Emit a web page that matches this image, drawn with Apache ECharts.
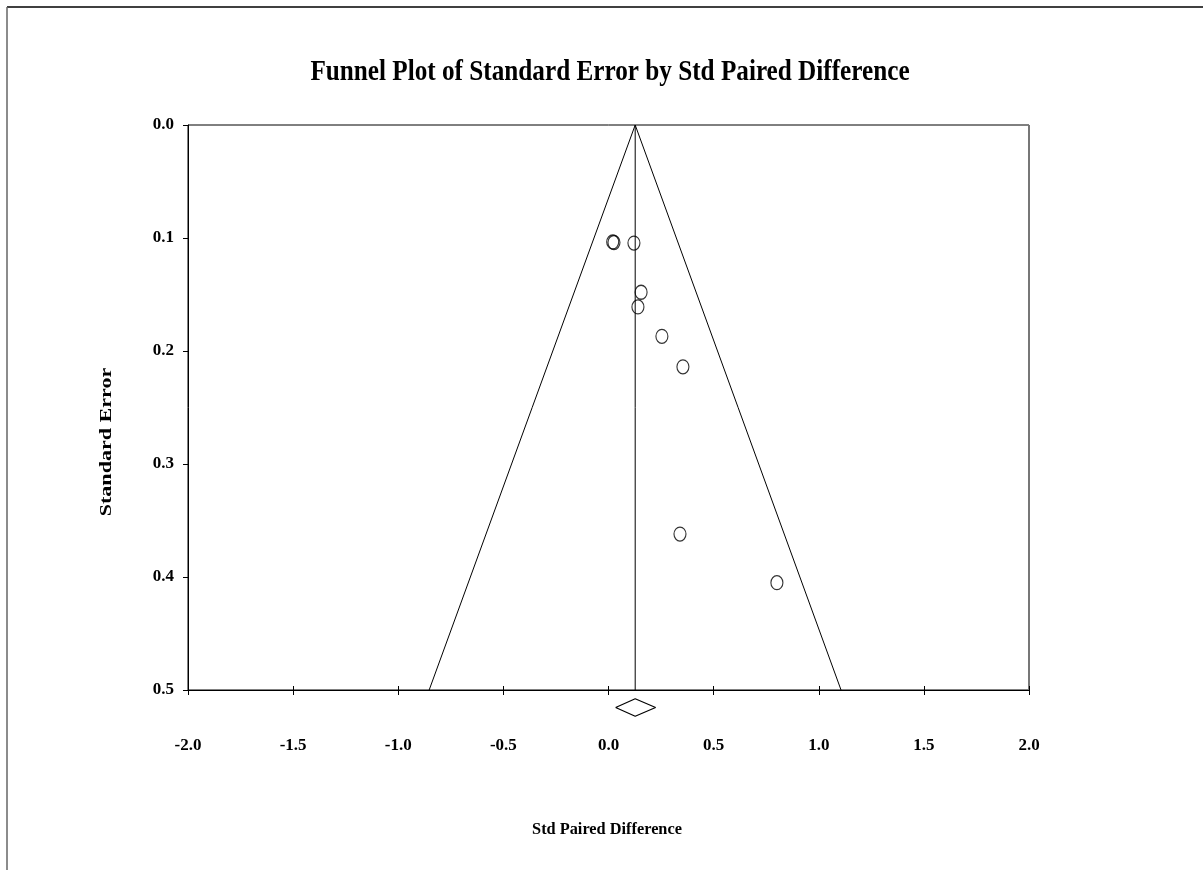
<!DOCTYPE html>
<html>
<head>
<meta charset="utf-8">
<script src="https://cdn.jsdelivr.net/npm/echarts@6/dist/echarts.min.js"></script>
<style>
html,body{margin:0;padding:0;background:#fff;}
#chart{width:1203px;height:870px;}
</style>
</head>
<body>
<div id="chart"></div>
<script>
// Study points: effect size (Std Paired Difference) and Standard Error
const studyEffect = [0.020, 0.026, 0.121, 0.155, 0.140, 0.254, 0.354, 0.340, 0.801];
const studySE     = [0.1035, 0.1040, 0.1045, 0.148, 0.161, 0.187, 0.214, 0.362, 0.405];
// Funnel (pseudo 95% limits) vertices
const funnelX  = [-0.853, 0.127, 1.106];
const funnelSE = [0.5, 0.0, 0.5];
// Combined effect line
const meanX = [0.127, 0.127];
const meanSE = [0.0, 0.5];
// Summary diamond (lower CI, estimate, upper CI) drawn below the axis
const diamondX  = [0.034, 0.127, 0.224, 0.127, 0.034];
const diamondSE = [0.5155, 0.5078, 0.5155, 0.5232, 0.5155];
// Axis ticks
const xTicks = [-2.0, -1.5, -1.0, -0.5, 0.0, 0.5, 1.0, 1.5, 2.0];
const yTicks = [0.0, 0.1, 0.2, 0.3, 0.4, 0.5];

const FONT = '"Liberation Serif", "Times New Roman", serif';
const zip = (a, b) => a.map((v, i) => [v, b[i]]);

const chart = echarts.init(document.getElementById('chart'), null, {renderer: 'canvas'});
const gridL = 188, gridT = 125, gridW = 841, gridH = 565;

chart.setOption({
  animation: false,
  backgroundColor: '#fff',
  grid: {left: gridL, top: gridT, width: gridW, height: gridH, show: true, borderColor: '#000', borderWidth: 1, backgroundColor: 'transparent'},
  xAxis: [{
    type: 'value', min: xTicks[0], max: xTicks[xTicks.length - 1], interval: 0.5,
    axisLine: {onZero: false, lineStyle: {color: '#000', width: 1}},
    axisTick: {show: true, inside: false, length: 5, lineStyle: {color: '#000'}},
    splitLine: {show: false},
    axisLabel: {margin: 47, color: '#000', fontFamily: FONT, fontWeight: 'bold', fontSize: 17,
      formatter: v => v.toFixed(1)}
  }, {
    type: 'value', position: 'bottom', min: xTicks[0], max: xTicks[xTicks.length - 1], interval: 0.5,
    axisLine: {show: false, onZero: false},
    axisTick: {show: true, inside: true, length: 4, lineStyle: {color: '#000'}},
    axisLabel: {show: false}, splitLine: {show: false}
  }],
  yAxis: {
    type: 'value', inverse: true, min: yTicks[0], max: yTicks[yTicks.length - 1], interval: 0.1,
    axisLine: {show: true, onZero: false, lineStyle: {color: '#000', width: 1}},
    axisTick: {show: true, inside: false, length: 5, lineStyle: {color: '#000'}},
    splitLine: {show: false},
    axisLabel: {margin: 14, color: '#000', fontFamily: FONT, fontWeight: 'bold', fontSize: 17,
      formatter: v => v.toFixed(1)}
  },
  graphic: [
    {type: 'line', shape: {x1: 7, y1: 7, x2: 1203, y2: 7}, style: {stroke: '#000', lineWidth: 1.5}},
    {type: 'line', shape: {x1: 7, y1: 7, x2: 7, y2: 870}, style: {stroke: '#666', lineWidth: 1.5}},
    {type: 'line', shape: {x1: gridL + gridW, y1: gridT, x2: gridL + gridW, y2: gridT + gridH}, style: {stroke: '#777', lineWidth: 2}},
    {type: 'text', x: 610, y: 72, scaleX: 0.84,
      style: {text: 'Funnel Plot of Standard Error by Std Paired Difference', font: 'bold 30px ' + FONT,
        fill: '#000', textAlign: 'center', textVerticalAlign: 'middle'}},
    {type: 'text', x: 607, y: 830, scaleX: 1.02,
      style: {text: 'Std Paired Difference', font: 'bold 16px ' + FONT,
        fill: '#000', textAlign: 'center', textVerticalAlign: 'middle'}},
    {type: 'text', x: 107, y: 442, rotation: Math.PI / 2, scaleX: 1.38,
      style: {text: 'Standard Error', font: 'bold 16px ' + FONT,
        fill: '#000', textAlign: 'center', textVerticalAlign: 'middle'}}
  ],
  series: [
    {type: 'line', data: zip(funnelX, funnelSE), symbol: 'none', lineStyle: {color: '#000', width: 1}, silent: true},
    {type: 'line', data: zip(meanX, meanSE), symbol: 'none', lineStyle: {color: '#000', width: 1}, silent: true},
    {type: 'line', data: zip(diamondX, diamondSE), symbol: 'none', clip: false, lineStyle: {color: '#000', width: 1.2}, silent: true},
    {type: 'scatter', data: zip(studyEffect, studySE), symbol: 'circle', symbolSize: [12, 14],
      itemStyle: {color: 'rgba(255,255,255,0)', borderColor: '#000', borderWidth: 1.2}}
  ]
});
</script>
</body>
</html>
